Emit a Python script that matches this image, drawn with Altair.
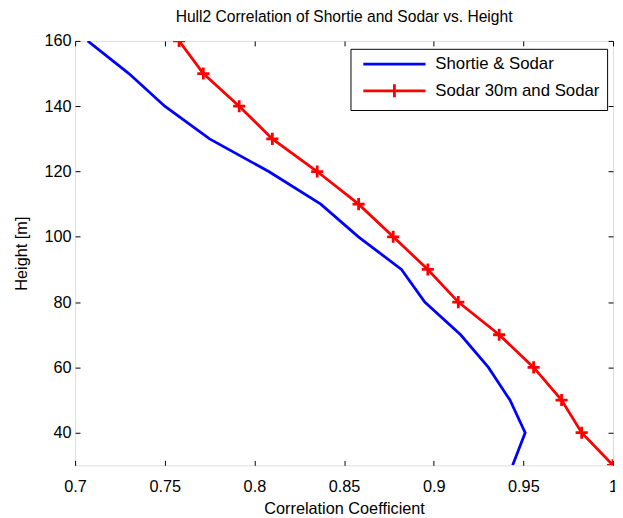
import altair as alt
import pandas as pd

heights = [30, 40, 50, 60, 70, 80, 90, 100, 110, 120, 130, 140, 150, 160]
shortie_sodar = [0.944, 0.951, 0.9425, 0.9305, 0.915, 0.895, 0.882, 0.858, 0.837, 0.808, 0.775, 0.750, 0.730, 0.707]
sodar30_sodar = [1.0, 0.9825, 0.9713, 0.9557, 0.9365, 0.9137, 0.8967, 0.8774, 0.8581, 0.835, 0.810, 0.7915, 0.7715, 0.758]
series_names = ["Shortie & Sodar", "Sodar 30m and Sodar"]
series_colors = ["#0000ff", "#ff0000"]
x_ticks = [0.7, 0.75, 0.8, 0.85, 0.9, 0.95, 1.0]
y_ticks = [40, 60, 80, 100, 120, 140, 160]

rows = []
for h, v in zip(heights, shortie_sodar):
    rows.append({"height": h, "corr": v, "series": series_names[0]})
for h, v in zip(heights, sodar30_sodar):
    rows.append({"height": h, "corr": v, "series": series_names[1]})
df = pd.DataFrame(rows)

FONT = "Liberation Sans"
FS = 16.5

xscale = alt.Scale(domain=[0.7, 1.0], nice=False, zero=False)
yscale = alt.Scale(domain=[30, 160], nice=False, zero=False)
cscale = alt.Scale(domain=series_names, range=series_colors)

plus_path = "M-1,0H1M0,-1V1"
legend_blue = "M-6.3,0H6.3"
legend_red = "M-6.3,0H6.3M0,-1.3V1.3"

axis_common = dict(domain=False, grid=False, offset=-5, tickSize=5, tickColor="black",
                   tickWidth=1, labelFont=FONT, labelFontSize=FS, labelColor="black",
                   titleFont=FONT, titleFontSize=FS, titleColor="black", titleFontWeight="normal")

x_bottom = alt.X("corr:Q", scale=xscale,
                 axis=alt.Axis(orient="bottom", values=x_ticks, format="~g", labelPadding=14,
                               title="Correlation Coefficient", titlePadding=5,
                               labelFlush=False, labelOverlap=False, **axis_common))
y_left = alt.Y("height:Q", scale=yscale,
               axis=alt.Axis(orient="left", values=y_ticks, labelPadding=4, title="Height [m]",
                             titlePadding=15, labelOverlap=False, **axis_common))

lines = alt.Chart(df).mark_line(strokeWidth=2.8, clip=True).encode(
    x=x_bottom,
    y=y_left,
    color=alt.Color("series:N", scale=cscale, legend=None),
    order=alt.Order("height:Q"),
    detail="series:N",
)

points = alt.Chart(df).transform_filter(
    alt.datum.series == series_names[1]
).mark_point(shape=plus_path, filled=False, size=150, strokeWidth=2.8, opacity=1, clip=True).encode(
    x=alt.X("corr:Q", scale=xscale, axis=None),
    y=alt.Y("height:Q", scale=yscale, axis=None),
    color=alt.Color("series:N", scale=cscale, legend=None),
)

axis_hidden = dict(domain=False, grid=False, offset=-5, tickSize=5, tickColor="black",
                   tickWidth=1, labels=False, title=None)

legend_props = dict(title=None, orient="none", legendX=279, legendY=8,
                    strokeColor="black", fillColor="white", padding=7,
                    labelFont=FONT, labelFontSize=17, labelColor="black", labelLimit=400,
                    symbolSize=100, symbolStrokeWidth=2.8, symbolOffset=29,
                    labelOffset=33, rowPadding=6, cornerRadius=0)

legend_layer = alt.Chart(df).transform_filter("false").mark_point(
    filled=False, strokeWidth=2.8, opacity=1
).encode(
    x=alt.X("corr:Q", scale=xscale, axis=alt.Axis(orient="top", values=x_ticks, **axis_hidden)),
    y=alt.Y("height:Q", scale=yscale, axis=alt.Axis(orient="right", values=y_ticks, **axis_hidden)),
    color=alt.Color("series:N", scale=cscale, legend=alt.Legend(**legend_props)),
    shape=alt.Shape("series:N", scale=alt.Scale(domain=series_names, range=[legend_blue, legend_red]),
                    legend=alt.Legend(**legend_props)),
)

chart = alt.layer(lines, points, legend_layer).resolve_axis(
    x="independent", y="independent"
).resolve_legend(
    color="independent", shape="independent"
).properties(
    width=545,
    height=430,
    autosize=alt.AutoSizeParams(type="none"),
    padding={"left": 68, "top": 30, "right": 2, "bottom": 50},
    title=alt.TitleParams("Hull2 Correlation of Shortie and Sodar vs. Height", font=FONT,
                          fontSize=15.8, fontWeight="normal", color="black", offset=7,
                          anchor="middle"),
).configure_view(stroke="black", strokeWidth=1).configure(background="white")

chart.save("out.html", embed_options={"renderer": "svg", "actions": False})
